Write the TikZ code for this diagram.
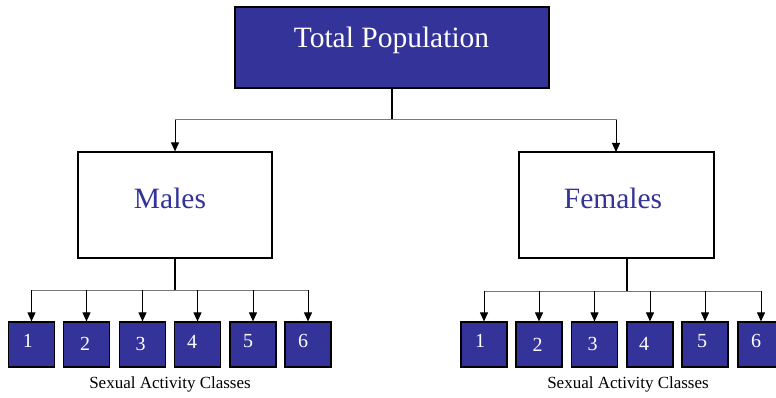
\documentclass[tikz,border=0pt]{standalone}
\usepackage{fontspec}
\setmainfont{Liberation Serif}
\usetikzlibrary{arrows.meta}
\definecolor{navy}{RGB}{51,51,153}
\definecolor{busgray}{RGB}{120,120,120}
\begin{document}
\begin{tikzpicture}[x=1pt,y=-1pt,
  bluebox/.style={draw=black,line width=1.2pt,fill=navy,inner sep=0pt},
  whitebox/.style={draw=black,line width=1.2pt,fill=white,inner sep=0pt,minimum width=194pt,minimum height=106pt},
  smallbox/.style={bluebox,minimum width=46pt,minimum height=45pt},
  bigtext/.style={font=\fontsize{29.5}{32}\selectfont,inner sep=0pt},
  numtext/.style={font=\fontsize{20}{22}\selectfont,text=white,inner sep=0pt},
  captext/.style={font=\fontsize{17}{19}\selectfont,inner sep=0pt},
  stem/.style={line width=1.8pt,black},
  bus/.style={line width=1pt,busgray},
  arr/.style={line width=1pt,black,-{Triangle[width=8pt,length=9pt]}}]
\useasboundingbox (0,0) rectangle (776,398);
\fill[white] (0,0) rectangle (776,398);

% top
\node[bluebox,minimum width=314pt,minimum height=81pt] (top) at (392,47.5) {};
\node[bigtext,text=white] (topT) at (391.5,40) {Total Population};

% second level
\node[whitebox] (males) at (175,205) {};
\node[bigtext,text=navy] (malesT) at (170,198) {Males};
\node[whitebox,minimum width=195pt] (females) at (616.5,205) {};
\node[bigtext,text=navy] (femalesT) at (613,198) {Females};

\coordinate (tj) at (392,120);
\draw[stem] (top.south) -- (tj);
\draw[bus] (males.north |- tj) -- (females.north |- tj);
\draw[arr] (males.north |- tj) -- (males.north);
\draw[arr] (616,120) -- (616,152);

% male classes
\foreach \i/\bx/\tx/\ty in {1/31.5/28/341,2/86.5/85/344,3/142.5/140.5/344,4/197.5/192/342,5/253/248/341,6/308/303/341}{
  \node[smallbox] (m\i) at (\bx,344.5) {};
  \node[numtext] (m\i t) at (\tx,\ty) {\i};
}
\coordinate (mj) at (175,290);
\draw[stem] (175,258) -- (mj);
\draw[bus] (m1.north |- mj) -- (m6.north |- mj);
\foreach \i in {1,...,6}{\draw[arr] (m\i.north |- mj) -- (m\i.north);}
\node[captext] (mcap) at (170,384) {Sexual Activity Classes};

% female classes
\foreach \i/\bx/\tx/\ty in {1/484/480/341,2/539/537.5/344.5,3/594.5/592.5/344,4/650/644/344,5/705/702/341,6/761/756/341}{
  \node[smallbox] (f\i) at (\bx,344.5) {};
  \node[numtext] (f\i t) at (\tx,\ty) {\i};
}
\coordinate (fj) at (627,291);
\draw[stem] (627,258) -- (fj);
\draw[bus] (f1.north |- fj) -- (f6.north |- fj);
\foreach \i in {1,...,6}{\draw[arr] (f\i.north |- fj) -- (f\i.north);}
\node[captext] (fcap) at (628,384) {Sexual Activity Classes};
\end{tikzpicture}
\end{document}
